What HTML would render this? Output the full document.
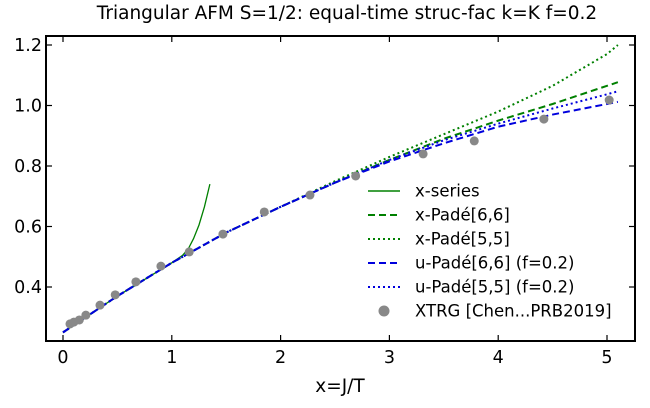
<!DOCTYPE html>
<html><head><meta charset="utf-8"><style>
body{margin:0;background:#fff}
svg{font-family:"DejaVu Sans","Liberation Sans",sans-serif}
</style></head><body>
<svg id="c" width="650" height="403"></svg>
<script>
const xs=[0,0.5,1,1.5,2,2.5,3,3.5,4,4.5,5,5.1];
const u66=[0.25,0.37,0.48,0.58,0.665,0.745,0.815,0.875,0.93,0.97,1.005,1.012];
const u55=[0.25,0.37,0.48,0.58,0.665,0.745,0.82,0.885,0.94,0.99,1.037,1.047];
const x66=[0.25,0.37,0.48,0.58,0.665,0.745,0.82,0.89,0.95,1.005,1.065,1.077];
const x55=[0.25,0.37,0.48,0.58,0.665,0.75,0.83,0.905,0.98,1.065,1.17,1.2];
const serX=[0,0.5,1,1.1,1.15,1.2,1.25,1.3,1.35];
const serY=[0.25,0.37,0.48,0.505,0.525,0.56,0.605,0.665,0.74];
const ptX=[0.064,0.1,0.15,0.21,0.34,0.48,0.67,0.9,1.16,1.47,1.85,2.27,2.69,3.31,3.78,4.42,5.02];
const ptY=[0.278,0.284,0.291,0.307,0.34,0.374,0.417,0.469,0.516,0.575,0.648,0.704,0.767,0.84,0.883,0.955,1.018];
const xTicks=[0,1,2,3,4,5];
const yTicks=[0.4,0.6,0.8,1.0,1.2];
const L=46,R=635,T=36,B=341;
const X=v=>63+v*108.8, Y=v=>287-(v-0.4)*302.5;
const s=document.getElementById('c'),NS='http://www.w3.org/2000/svg';
function el(t,a,p){const e=document.createElementNS(NS,t);for(const k in a)e.setAttribute(k,a[k]);(p||s).appendChild(e);return e;}
function line(xa,ya,col,dash,w,name){
 const p=el('polyline',{points:xa.map((x,i)=>X(x)+','+Y(ya[i])).join(' '),fill:'none',stroke:col,'stroke-width':w,'stroke-dasharray':dash});
 
 
}
const t=el('text',{x:347,y:19,'text-anchor':'middle','font-size':18.5});t.textContent='Triangular AFM S=1/2: equal-time struc-fac k=K f=0.2';


xTicks.forEach(v=>{el('line',{x1:X(v),x2:X(v),y1:B,y2:B-6,stroke:'#000','stroke-width':1.2});el('line',{x1:X(v),x2:X(v),y1:T,y2:T+6,stroke:'#000','stroke-width':1.2});
 const tx=el('text',{x:X(v),y:B+22,'text-anchor':'middle','font-size':17.5});tx.textContent=v;
 
 });
yTicks.forEach(v=>{el('line',{x1:L,x2:L+6,y1:Y(v),y2:Y(v),stroke:'#000','stroke-width':1.2});el('line',{x1:R,x2:R-6,y1:Y(v),y2:Y(v),stroke:'#000','stroke-width':1.2});
 const ty=el('text',{x:L-4,y:Y(v)+6,'text-anchor':'end','font-size':17.5});ty.textContent=v.toFixed(1);
 
 });
const xl=el('text',{x:340,y:392,'text-anchor':'middle','font-size':18.5});xl.textContent='x=J/T';


line(serX,serY,'#008000','',1.3,'x-series-line');
line(xs,x66,'#008000','7,4',2,'x-pade-66-line');
line(xs,x55,'#008000','2,3',2,'x-pade-55-line');
line(xs,u66,'#0000dd','7,4',2,'u-pade-66-line');
line(xs,u55,'#0000dd','2,3',2,'u-pade-55-line');
ptX.forEach((x,i)=>{const c=el('circle',{cx:X(x),cy:Y(ptY[i]),r:4.5,fill:'#888'});
 
 });
el('rect',{x:L,y:T,width:R-L,height:B-T,fill:'none',stroke:'#000','stroke-width':2});
const leg=[['x-series','#008000',''],['x-Padé[6,6]','#008000','7,4'],['x-Padé[5,5]','#008000','2,3'],['u-Padé[6,6] (f=0.2)','#0000dd','7,4'],['u-Padé[5,5] (f=0.2)','#0000dd','2,3'],['XTRG [Chen...PRB2019]','#888','pt']];
leg.forEach((g,i)=>{const y=191+i*24;
 if(g[2]==='pt'){el('circle',{cx:384,cy:y,r:5.5,fill:g[1]});}
 else el('line',{x1:368,x2:400,y1:y,y2:y,stroke:g[1],'stroke-width':g[2]?2:1.5,'stroke-dasharray':g[2]});
 const lt=el('text',{x:415,y:y+5.5,'font-size':16.5});lt.textContent=g[0];
 
 });
</script>
</body></html>
